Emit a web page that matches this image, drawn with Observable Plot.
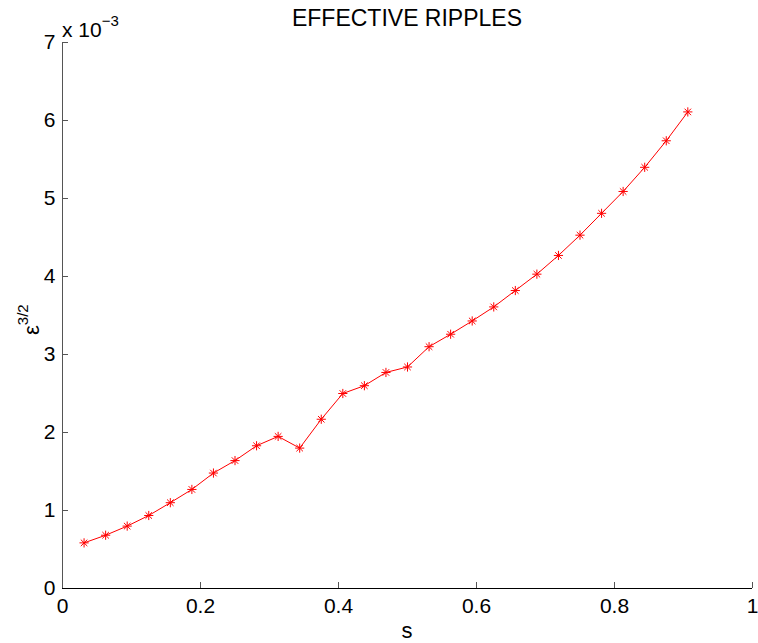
<!DOCTYPE html>
<html><head><meta charset="utf-8">
<script src="https://cdn.jsdelivr.net/npm/d3@7"></script>
<script src="https://cdn.jsdelivr.net/npm/@observablehq/plot@0.6"></script>
<style>
body{margin:0;background:#fff;}
#chart svg{display:block;font-family:"Liberation Sans",Arial,Helvetica,sans-serif;}
</style>
</head><body><div id="chart"></div>
<script>
// s values (k/32)
const sValues = [0.03125,0.0625,0.09375,0.125,0.15625,0.1875,0.21875,0.25,0.28125,0.3125,0.34375,0.375,0.40625,0.4375,0.46875,0.5,0.53125,0.5625,0.59375,0.625,0.65625,0.6875,0.71875,0.75,0.78125,0.8125,0.84375,0.875,0.90625];
// eps^(3/2) in units of 1e-3
const epsValues = [0.585,0.683,0.80,0.936,1.10,1.27,1.48,1.64,1.83,1.95,1.80,2.17,2.50,2.60,2.77,2.84,3.10,3.26,3.43,3.61,3.82,4.03,4.27,4.53,4.81,5.09,5.40,5.74,6.11];
const xTicks = [0,0.2,0.4,0.6,0.8,1];
const yTicks = [0,1,2,3,4,5,6,7];
const titleText = "EFFECTIVE RIPPLES";
const xLabel = "s";

const data = sValues.map((s,i)=>({s, e: epsValues[i]}));

const star8 = {
  draw(ctx, size){
    const r = Math.sqrt(size/Math.PI);
    const d = r*Math.SQRT1_2;
    ctx.moveTo(-r,0); ctx.lineTo(r,0);
    ctx.moveTo(0,-r); ctx.lineTo(0,r);
    ctx.moveTo(-d,-d); ctx.lineTo(d,d);
    ctx.moveTo(-d,d); ctx.lineTo(d,-d);
  }
};

const W=758, H=643, mL=62, mR=6, mT=42, mB=55;
const plotH = H-mT-mB, plotW = W-mL-mR;
const ff = '"Liberation Sans",Arial,Helvetica,sans-serif';

const chart = Plot.plot({
  width: W, height: H,
  marginLeft: mL, marginRight: mR, marginTop: mT, marginBottom: mB,
  style: {fontFamily: ff, background: "#fff", color: "#000"},
  x: {domain: [0,1]},
  y: {domain: [0,7]},
  marks: [
    Plot.axisX({ticks: xTicks, tickSize: 0, tickPadding: 10, fontSize: 21, label: null, tickFormat: d=>String(d)}),
    Plot.axisY({ticks: yTicks, tickSize: 0, tickPadding: 7, fontSize: 21, label: null, tickFormat: d=>String(d)}),
    Plot.tickX(xTicks, {x: d=>d, stroke: "#555", insetTop: plotH-6}),
    Plot.tickY(yTicks, {y: d=>d, stroke: "#555", insetRight: plotW-6}),
    Plot.ruleY([0], {stroke: "#000"}),
    Plot.ruleX([0], {stroke: "#555"}),
    Plot.line(data, {x: "s", y: "e", stroke: "#ff0000", strokeWidth: 1}),
    Plot.dot(data, {x: "s", y: "e", symbol: star8, r: 4.6, stroke: "#ff0000", strokeWidth: 1, fill: "none"})
  ]
});
document.getElementById("chart").appendChild(chart);

const svg = d3.select(chart);
svg.append("text").attr("x", mL + plotW/2).attr("y", 26).attr("text-anchor","middle")
  .attr("font-size", 23).attr("font-family", ff).attr("fill","#000").text(titleText);
svg.append("text").attr("x", mL + plotW/2).attr("y", 638).attr("text-anchor","middle")
  .attr("font-size", 22).attr("font-family", ff).attr("fill","#000").text(xLabel);
const ex = svg.append("text").attr("x", 62).attr("y", 37).attr("text-anchor","start")
  .attr("font-size", 21).attr("font-family", ff).attr("fill","#000");
ex.append("tspan").text("x 10");
ex.append("tspan").attr("dy", -11).attr("font-size", 15).text("\u22123");
const yl = svg.append("text").attr("transform", "translate(39,335) rotate(-90)").attr("text-anchor","start")
  .attr("font-size", 22).attr("font-family", ff).attr("fill","#000");
yl.append("tspan").text("\u03b5");
yl.append("tspan").attr("dy", -11).attr("font-size", 15).text("3/2");
</script>
</body></html>
